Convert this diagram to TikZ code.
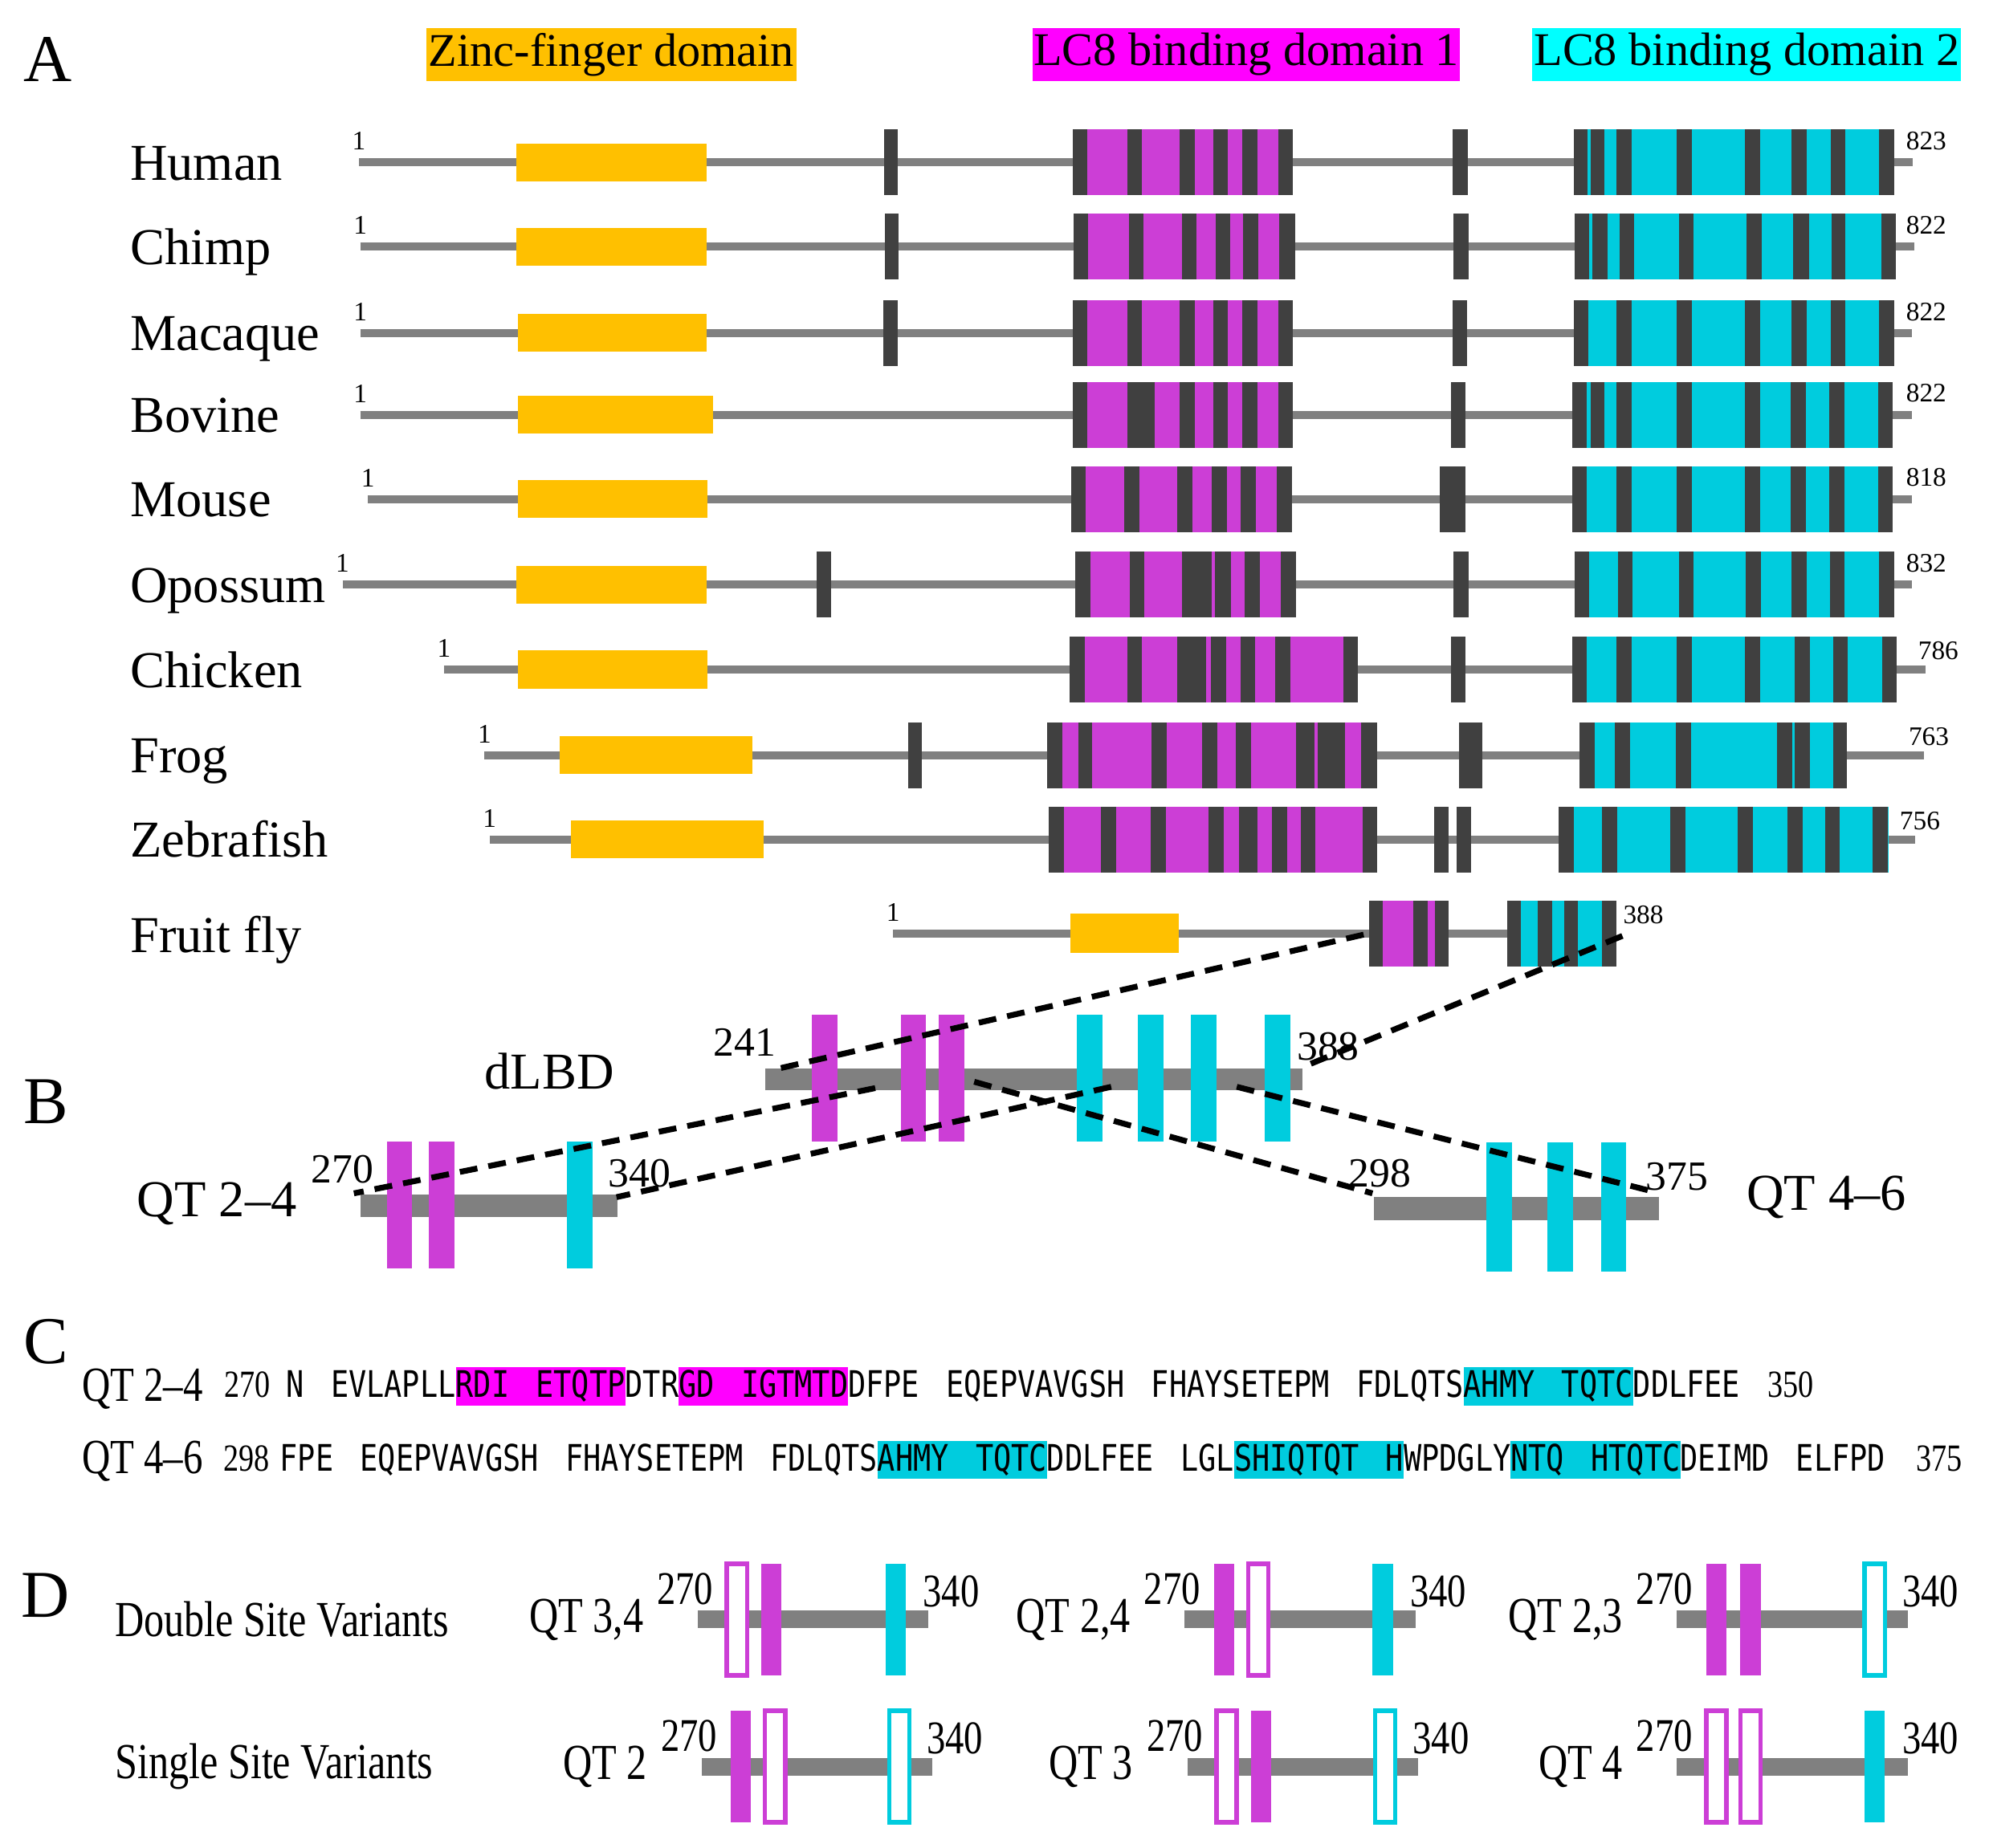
\documentclass[tikz,border=0pt]{standalone}
\usepackage{fontspec}
\setmainfont{Liberation Serif}
\newfontfamily\condfont[FakeStretch=0.8,Ligatures=TeX]{Liberation Serif}
\newfontfamily\seqfont[FakeStretch=0.81]{DejaVu Sans Mono}
\usepackage{xcolor}
\definecolor{zinc}{RGB}{255,192,0}
\definecolor{lcone}{RGB}{204,62,214}
\definecolor{lctwo}{RGB}{0,204,222}
\definecolor{hdrone}{RGB}{255,0,255}
\definecolor{hdrtwo}{RGB}{0,255,255}
\definecolor{motif}{RGB}{64,64,64}
\definecolor{backbone}{RGB}{128,128,128}
\usepackage{tikz}
\usetikzlibrary{calc}
\tikzset{
    prot/.style={backbone, line width=1.8pt},
    species/.style={anchor=base west, inner sep=0pt, font=\fontsize{11.6}{14}\selectfont},
    tick/.style={inner sep=0pt, font=\fontsize{6}{7}\selectfont},
    hdr/.style={inner sep=0pt, minimum height=0.42cm, font=\fontsize{10.5}{12}\selectfont},
    pnl/.style={inner sep=0pt, font=\fontsize{15}{18}\selectfont},
    blab/.style={inner sep=0pt, font=\fontsize{9.3}{11}\selectfont},
    bname/.style={inner sep=0pt, font=\fontsize{11.6}{14}\selectfont},
    dashline/.style={black, line width=1.3pt, dash pattern=on 4pt off 2.5pt},
    seq/.style={inner sep=0pt, font=\seqfont\fontsize{8.2}{9}\selectfont},
    cnum/.style={inner sep=0pt, font=\condfont\fontsize{8.6}{10}\selectfont},
    clab/.style={inner sep=0pt, font=\condfont\fontsize{11}{13}\selectfont},
    dlab/.style={inner sep=0pt, font=\condfont\fontsize{11.3}{13}\selectfont},
    dnum/.style={inner sep=0pt, font=\condfont\fontsize{10.5}{12}\selectfont},
    fulm/.style={fill=lcone},
    opnm/.style={draw=lcone, fill=white, line width=1pt},
    fulc/.style={fill=lctwo},
    opnc/.style={draw=lctwo, fill=white, line width=1pt},
    }
\newcommand\sgap{\hspace{6pt}}
\newcommand\hlm[1]{{\setlength\fboxsep{0pt}\colorbox{hdrone}{\rule[-1.8pt]{0pt}{8.6pt}#1}}}
\newcommand\hlc[1]{{\setlength\fboxsep{0pt}\colorbox{lctwo}{\rule[-1.8pt]{0pt}{8.6pt}#1}}}

\begin{document}
\begin{tikzpicture}
    [x=0.01cm, y=-0.01cm]
    \useasboundingbox (0,0) rectangle (1568,1457);
    % panel letters
    \node[pnl] (pa) at (38,47) {A};
    \node[pnl] (pb) at (36,869) {B};
    \node[pnl] (pc) at (36,1058) {C};
    \node[pnl] (pd) at (36,1258) {D};
    % domain headers
    \node[hdr, fill=zinc, minimum width=2.92cm] (hzinc) at (482,43) {Zinc-finger domain};
    \node[hdr, fill=hdrone, minimum width=3.37cm] (hlcone) at (982.5,43) {LC8 binding domain 1};
    \node[hdr, fill=hdrtwo, minimum width=3.38cm] (hlctwo) at (1377,43) {LC8 binding domain 2};
    % Human
    \begin{scope}[shift={(0,128)}]
        \draw[prot] (283,0) -- (1508,0);
        \fill[zinc] (407,-15) rectangle (557,15);
        \fill[lcone] (846,-26) rectangle (1019,26);
        \fill[lctwo] (1241,-26) rectangle (1493,26);
        \foreach \a/\b in {697/708,1145/1157,846/857,889/900,930/942,956.5/968,979/991,1007.5/1019,
            1241/1251.5,1254/1265,1274/1286,1322/1333.5,1375.5/1387.5,1412.5/1424.5,1443/1455,1481/1493}
            \fill[motif] (\a,-26) rectangle (\b,26);
        \node[species] (human) at (102,14) {Human};
        \node[tick, anchor=south] (human0) at (283,-9) {1};
        \node[tick, anchor=south west] (human1) at (1502,-9) {823};
    \end{scope}
    % Chimp
    \begin{scope}[shift={(0,194.5)}]
        \draw[prot] (284,0) -- (1509,0);
        \fill[zinc] (407,-15) rectangle (557,15);
        \fill[lcone] (846.5,-26) rectangle (1021,26);
        \fill[lctwo] (1241.5,-26) rectangle (1494.5,26);
        \foreach \a/\b in {697.5/708.5,1146/1157.5,846.5/858,890/901.5,932/943,958.5/970,980/992,1008.5/1021,
            1241.5/1252.5,1255.5/1267,1276.5/1288,1323.5/1335,1377/1389,1413.5/1426,1444/1455,1483/1494.5}
            \fill[motif] (\a,-26) rectangle (\b,26);
        \node[species] (chimp) at (102,14) {Chimp};
        \node[tick, anchor=south] (chimp0) at (284,-9) {1};
        \node[tick, anchor=south west] (chimp1) at (1502,-9) {822};
    \end{scope}
    % Macaque
    \begin{scope}[shift={(0,262.5)}]
        \draw[prot] (284,0) -- (1507,0);
        \fill[zinc] (408,-15) rectangle (557,15);
        \fill[lcone] (846,-26) rectangle (1019,26);
        \fill[lctwo] (1240.5,-26) rectangle (1493,26);
        \foreach \a/\b in {696.5/707.5,1145/1156.5,846/857,889/900,930/942,956.5/968,979/991,1007.5/1019,
            1240.5/1252,1274/1286,1322/1333.5,1375.5/1387.5,1412.5/1424.5,1443/1455,1481/1493}
            \fill[motif] (\a,-26) rectangle (\b,26);
        \node[species] (macaque) at (102,14) {Macaque};
        \node[tick, anchor=south] (macaque0) at (284,-9) {1};
        \node[tick, anchor=south west] (macaque1) at (1502,-9) {822};
    \end{scope}
    % Bovine
    \begin{scope}[shift={(0,327)}]
        \draw[prot] (284,0) -- (1507,0);
        \fill[zinc] (408,-15) rectangle (562,15);
        \fill[lcone] (845.5,-26) rectangle (1019,26);
        \fill[lctwo] (1239.5,-26) rectangle (1492,26);
        \foreach \a/\b in {1144/1155.5,845.5/857,888.5/910,930/942,956.5/968,979/991,1007.5/1019,
            1239.5/1251,1254/1265,1274/1286,1322/1333.5,1375.5/1387.5,1411.5/1423.5,1442/1454,1480.5/1492}
            \fill[motif] (\a,-26) rectangle (\b,26);
        \node[species] (bovine) at (102,14) {Bovine};
        \node[tick, anchor=south] (bovine0) at (284,-9) {1};
        \node[tick, anchor=south west] (bovine1) at (1502,-9) {822};
    \end{scope}
    % Mouse
    \begin{scope}[shift={(0,393.5)}]
        \draw[prot] (290,0) -- (1507,0);
        \fill[zinc] (408,-15) rectangle (558,15);
        \fill[lcone] (844.5,-26) rectangle (1018.5,26);
        \fill[lctwo] (1239.5,-26) rectangle (1492,26);
        \foreach \a/\b in {1135/1155.5,844.5/856,886.5/898.5,928/940,955/967,978/990,1006.5/1018.5,
            1239.5/1251,1274/1286,1322/1333.5,1375.5/1387.5,1411.5/1423.5,1442/1454,1480.5/1492}
            \fill[motif] (\a,-26) rectangle (\b,26);
        \node[species] (mouse) at (102,14) {Mouse};
        \node[tick, anchor=south] (mouse0) at (290,-9) {1};
        \node[tick, anchor=south west] (mouse1) at (1502,-9) {818};
    \end{scope}
    % Opossum
    \begin{scope}[shift={(0,461)}]
        \draw[prot] (270,0) -- (1507,0);
        \fill[zinc] (407,-15) rectangle (557,15);
        \fill[lcone] (847.5,-26) rectangle (1021.5,26);
        \fill[lctwo] (1241.5,-26) rectangle (1493,26);
        \foreach \a/\b in {643.5/655,1146/1157.5,847.5/859.5,890.5/902,932/955.5,958/970.5,981.5/993.5,1009.5/1021.5,
            1241.5/1253,1275.5/1287,1323.5/1335,1376.5/1388.5,1412.5/1424,1442.5/1454,1481/1493}
            \fill[motif] (\a,-26) rectangle (\b,26);
        \node[species] (opossum) at (102,14) {Opossum};
        \node[tick, anchor=south] (opossum0) at (270,-9) {1};
        \node[tick, anchor=south west] (opossum1) at (1502,-9) {832};
    \end{scope}
    % Chicken
    \begin{scope}[shift={(0,528)}]
        \draw[prot] (350,0) -- (1518,0);
        \fill[zinc] (408,-15) rectangle (558,15);
        \fill[lcone] (843.5,-26) rectangle (1070.5,26);
        \fill[lctwo] (1239.5,-26) rectangle (1495,26);
        \foreach \a/\b in {1144/1155.5,843.5/855,888.5/900,928/951,954.5/966.5,978/989.5,1005.5/1017,1059/1070.5,
            1239.5/1251,1274/1286,1322/1333.5,1375.5/1387.5,1415/1427,1445/1456.5,1483.5/1495}
            \fill[motif] (\a,-26) rectangle (\b,26);
        \node[species] (chicken) at (102,14) {Chicken};
        \node[tick, anchor=south] (chicken0) at (350,-9) {1};
        \node[tick, anchor=south west] (chicken1) at (1511.5,-7) {786};
    \end{scope}
    % Frog
    \begin{scope}[shift={(0,595.5)}]
        \draw[prot] (382,0) -- (1516.5,0);
        \fill[zinc] (441,-15) rectangle (593,15);
        \fill[lcone] (825.5,-26) rectangle (1085.5,26);
        \fill[lctwo] (1245,-26) rectangle (1456,26);
        \foreach \a/\b in {716/727,1150/1168.5,825.5/837.5,850/861,908/920,947.5/959.5,974.5/986.5,1021.5/1036,1039/1060,1073/1085.5,
            1245/1257,1273/1285,1321/1333,1401/1413,1415/1427,1445/1456}
            \fill[motif] (\a,-26) rectangle (\b,26);
        \node[species] (frog) at (102,14) {Frog};
        \node[tick, anchor=south] (frog0) at (382,-9) {1};
        \node[tick, anchor=south west] (frog1) at (1504,-7) {763};
    \end{scope}
    % Zebrafish
    \begin{scope}[shift={(0,662)}]
        \draw[prot] (386,0) -- (1510,0);
        \fill[zinc] (450,-15) rectangle (602,15);
        \fill[lcone] (826.5,-26) rectangle (1085.5,26);
        \fill[lctwo] (1229,-26) rectangle (1489,26);
        \foreach \a/\b in {1130.5/1142,1148/1160,826.5/838.5,868/880,907/919,953/965,977/991.5,1002.5/1014.5,1025.5/1037,1074/1085.5,
            1229/1240.5,1263/1275,1316.5/1328.5,1370/1382,1409/1421,1439/1450.5,1476/1488}
            \fill[motif] (\a,-26) rectangle (\b,26);
        \node[species] (zebrafish) at (102,14) {Zebrafish};
        \node[tick, anchor=south] (zebrafish0) at (386,-9) {1};
        \node[tick, anchor=south west] (zebrafish1) at (1497,-7) {756};
    \end{scope}
    % Fruit fly
    \begin{scope}[shift={(0,736)}]
        \draw[prot] (704,0) -- (1274,0);
        \fill[zinc] (844,-15.5) rectangle (929,15.5);
        \fill[lcone] (1079,-26) rectangle (1142,26);
        \fill[lctwo] (1188,-26) rectangle (1274,26);
        \foreach \a/\b in {1079/1090,1114/1125.5,1131/1142,1188/1199,1212/1223.5,1233/1244,1263/1274}
            \fill[motif] (\a,-26) rectangle (\b,26);
        \node[species] (fly) at (102,15) {Fruit fly};
        \node[tick, anchor=south] (fly0) at (704,-9) {1};
        \node[tick, anchor=south west] (fly1) at (1279,-7) {388};
    \end{scope}
    % dLBD
    \fill[backbone] (603,842.5) rectangle (1027,859.5);
    \foreach \a in {640,710,740}
        \fill[lcone] (\a,800) rectangle (\a+20,900);
    \foreach \a in {849,897,939,997}
        \fill[lctwo] (\a,800) rectangle (\a+20,900);
    \node[bname] (dlbd) at (433,845) {dLBD};
    \node[blab] (dlbd0) at (587,822) {241};
    \node[blab] (dlbd1) at (1047,825) {388};
    % QT 2-4
    \fill[backbone] (284,942) rectangle (487,959.5);
    \foreach \a in {305,338}
        \fill[lcone] (\a,900) rectangle (\a+20,1000);
    \fill[lctwo] (447,900) rectangle (467,1000);
    \node[bname] (qtl) at (171,949) {QT 2–4};
    \node[blab] (qtl0) at (270,922) {270};
    \node[blab] (qtl1) at (504,925) {340};
    % QT 4-6
    \fill[backbone] (1083,944) rectangle (1308,962);
    \foreach \a in {1172,1220,1262}
        \fill[lctwo] (\a,901) rectangle (\a+20,1003);
    \node[bname] (qtr) at (1440,944) {QT 4–6};
    \node[blab] (qtr0) at (1088,925) {298};
    \node[blab] (qtr1) at (1322,928) {375};
    % dashed guides
    \coordinate (flyL) at (1075,737);
    \coordinate (flyR) at (1279,738);
    \coordinate (dlbdA) at (612,843);
    \coordinate (dlbdB) at (1028,841);
    \coordinate (dlbdC) at (690,858);
    \coordinate (dlbdD) at (876,857);
    \coordinate (dlbdE) at (768,853);
    \coordinate (dlbdF) at (975,857);
    \coordinate (qtlA) at (279,941);
    \coordinate (qtlB) at (486,944);
    \coordinate (qtrA) at (1082,941);
    \coordinate (qtrB) at (1305,940);
    \draw[dashline] (flyL) -- (dlbdA);
    \draw[dashline] (flyR) -- (dlbdB);
    \draw[dashline] (dlbdC) -- (qtlA);
    \draw[dashline] (dlbdD) -- (qtlB);
    \draw[dashline] (dlbdE) -- (qtrA);
    \draw[dashline] (dlbdF) -- (qtrB);
    % sequences
    \node[clab, anchor=base west] (seqlab1) at (64,1105) {QT 2–4};
    \node[cnum, anchor=base east] (seqs1) at (214,1102) {270};
    \node[seq, anchor=base west] (seq1) at (225,1102)
        {N\sgap EVLAPLL\hlm{RDI\sgap ETQTP}DTR\hlm{GD\sgap IGTMTD}DFPE\sgap EQEPVAVGSH\sgap FHAYSETEPM\sgap FDLQTS\hlc{AHMY\sgap TQTC}DDLFEE};
    \node[cnum, anchor=base west] (seqe1) at (1393,1102) {350};
    \node[clab, anchor=base west] (seqlab2) at (64,1162) {QT 4–6};
    \node[cnum, anchor=base east] (seqs2) at (213,1160) {298};
    \node[seq, anchor=base west] (seq2) at (220,1160)
        {FPE\sgap EQEPVAVGSH\sgap FHAYSETEPM\sgap FDLQTS\hlc{AHMY\sgap TQTC}DDLFEE\sgap LGL\hlc{SHIQTQT\sgap H}WPDGLY\hlc{NTQ\sgap HTQTC}DEIMD\sgap ELFPD};
    \node[cnum, anchor=base west] (seqe2) at (1510,1160) {375};
    % variants
    \node[dlab, anchor=west] (dbl) at (90,1277) {Double Site Variants};
    \node[dlab, anchor=west] (sgl) at (90,1393) {Single Site Variants};
    \foreach \bx/\by/\lab/\pa/\pb/\pc [count=\i] in
        {550/1277/{QT 3,4}/opnm/fulm/fulc, 934/1277/{QT 2,4}/fulm/opnm/fulc, 1322/1277/{QT 2,3}/fulm/fulm/opnc,
         553/1393/{QT 2}/fulm/opnm/opnc, 936/1393/{QT 3}/opnm/fulm/opnc, 1322/1393/{QT 4}/opnm/opnm/fulc}
    {
        \fill[backbone] (\bx,\by-7) rectangle (\bx+182,\by+7);
        \path[\pa] (\bx+23,\by-44) rectangle (\bx+39,\by+44);
        \path[\pb] (\bx+50,\by-44) rectangle (\bx+66,\by+44);
        \path[\pc] (\bx+148,\by-44) rectangle (\bx+164,\by+44);
        \node[dlab, anchor=east] (var\i) at (\bx-42,\by) {\lab};
        \node[dnum, anchor=east] (vars\i) at (\bx+13,\by-24) {270};
        \node[dnum, anchor=west] (vare\i) at (\bx+177,\by-22) {340};
    }
\end{tikzpicture}
\end{document}
